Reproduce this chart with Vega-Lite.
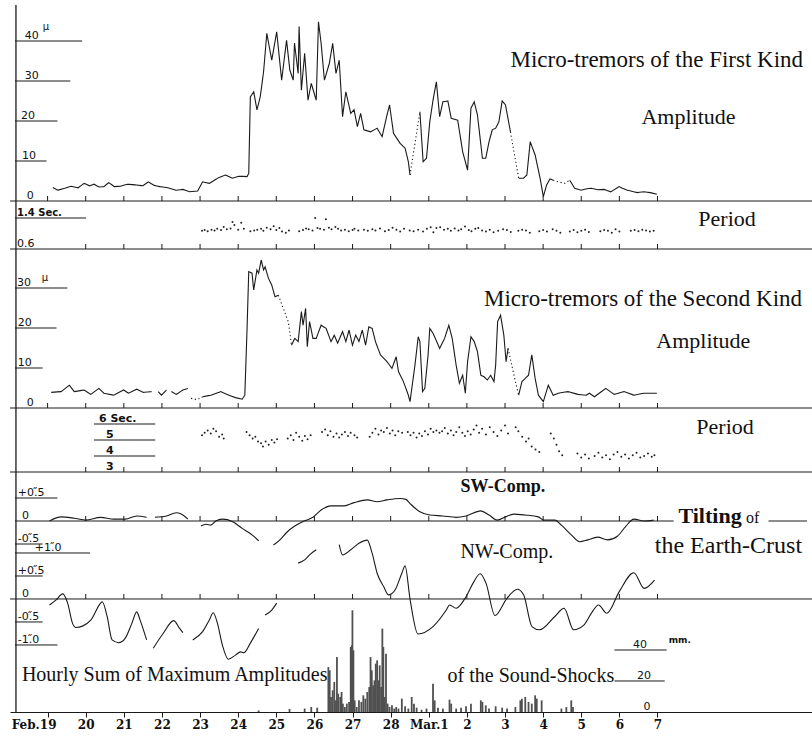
{
  "$schema": "https://vega.github.io/schema/vega-lite/v6.json",
  "autosize": {"type": "none"},
  "width": 802,
  "height": 712,
  "padding": {"left": 10, "top": 0, "right": 0, "bottom": 28},
  "background": "white",
  "config": {
    "view": {"stroke": null},
    "text": {"font": "Liberation Serif", "color": "#111111"},
    "rule": {"color": "#1a1a1a", "strokeWidth": 1}
  },
  "data": {"values": [{}]},
  "datasets": {
    "ticks": [{"d":0},{"d":1},{"d":2},{"d":3},{"d":4},{"d":5},{"d":6},{"d":7},{"d":8},{"d":9},{"d":10},{"d":11},{"d":12},{"d":13},{"d":14},{"d":15},{"d":16}],
    "amp1": [
      {"d":0.137,"v":3.4,"seg":"A","trace":"observed"},{"d":0.267,"v":2.7,"seg":"A","trace":"observed"},{"d":0.45,"v":3.2,"seg":"A","trace":"observed"},{"d":0.614,"v":3.7,"seg":"A","trace":"observed"},{"d":0.8,"v":3.3,"seg":"A","trace":"observed"},{"d":0.959,"v":4.4,"seg":"A","trace":"observed"},{"d":1.1,"v":3.8,"seg":"A","trace":"observed"},{"d":1.218,"v":4.2,"seg":"A","trace":"observed"},{"d":1.35,"v":3.5,"seg":"A","trace":"observed"},{"d":1.477,"v":3.6,"seg":"A","trace":"observed"},{"d":1.606,"v":4.6,"seg":"A","trace":"observed"},{"d":1.75,"v":3.6,"seg":"A","trace":"observed"},{"d":1.909,"v":3.7,"seg":"A","trace":"observed"},{"d":2.1,"v":4.2,"seg":"A","trace":"observed"},{"d":2.332,"v":4.0,"seg":"A","trace":"observed"},{"d":2.5,"v":3.8,"seg":"A","trace":"observed"},{"d":2.642,"v":4.8,"seg":"A","trace":"observed"},{"d":2.8,"v":3.9,"seg":"A","trace":"observed"},{"d":2.946,"v":3.6,"seg":"A","trace":"observed"},{"d":3.15,"v":3.3,"seg":"A","trace":"observed"},{"d":3.368,"v":2.7,"seg":"A","trace":"observed"},{"d":3.55,"v":2.9,"seg":"A","trace":"observed"},{"d":3.723,"v":2.3,"seg":"A","trace":"observed"},{"d":3.938,"v":2.5,"seg":"A","trace":"observed"},{"d":4.067,"v":4.8,"seg":"A","trace":"observed"},{"d":4.241,"v":4.4,"seg":"A","trace":"observed"},{"d":4.5,"v":5.9,"seg":"A","trace":"observed"},{"d":4.663,"v":6.5,"seg":"A","trace":"observed"},{"d":4.845,"v":5.7,"seg":"A","trace":"observed"},{"d":5.018,"v":6.2,"seg":"A","trace":"observed"},{"d":5.233,"v":6.1,"seg":"A","trace":"observed"},{"d":5.277,"v":6.9,"seg":"A","trace":"observed"},{"d":5.319,"v":26,"seg":"A","trace":"observed"},{"d":5.407,"v":27.3,"seg":"A","trace":"observed"},{"d":5.492,"v":22.8,"seg":"A","trace":"observed"},{"d":5.578,"v":26,"seg":"A","trace":"observed"},{"d":5.666,"v":32.3,"seg":"A","trace":"observed"},{"d":5.751,"v":41.9,"seg":"A","trace":"observed"},{"d":5.881,"v":35.2,"seg":"A","trace":"observed"},{"d":6.01,"v":42.3,"seg":"A","trace":"observed"},{"d":6.14,"v":30.2,"seg":"A","trace":"observed"},{"d":6.269,"v":40.2,"seg":"A","trace":"observed"},{"d":6.355,"v":32.7,"seg":"A","trace":"observed"},{"d":6.443,"v":30.2,"seg":"A","trace":"observed"},{"d":6.477,"v":39.5,"seg":"A","trace":"observed"},{"d":6.573,"v":31.9,"seg":"A","trace":"observed"},{"d":6.598,"v":43.6,"seg":"A","trace":"observed"},{"d":6.658,"v":27.7,"seg":"A","trace":"observed"},{"d":6.744,"v":36.9,"seg":"A","trace":"observed"},{"d":6.831,"v":25.2,"seg":"A","trace":"observed"},{"d":6.917,"v":29.4,"seg":"A","trace":"observed"},{"d":7.047,"v":25.2,"seg":"A","trace":"observed"},{"d":7.106,"v":44.8,"seg":"A","trace":"observed"},{"d":7.176,"v":39.4,"seg":"A","trace":"observed"},{"d":7.262,"v":30.2,"seg":"A","trace":"observed"},{"d":7.391,"v":34.4,"seg":"A","trace":"observed"},{"d":7.479,"v":39.4,"seg":"A","trace":"observed"},{"d":7.565,"v":31.9,"seg":"A","trace":"observed"},{"d":7.65,"v":35.2,"seg":"A","trace":"observed"},{"d":7.738,"v":21.1,"seg":"A","trace":"observed"},{"d":7.824,"v":27.3,"seg":"A","trace":"observed"},{"d":7.953,"v":21.9,"seg":"A","trace":"observed"},{"d":8.039,"v":22.8,"seg":"A","trace":"observed"},{"d":8.127,"v":18.6,"seg":"A","trace":"observed"},{"d":8.212,"v":21.9,"seg":"A","trace":"observed"},{"d":8.298,"v":17.8,"seg":"A","trace":"observed"},{"d":8.472,"v":17.3,"seg":"A","trace":"observed"},{"d":8.645,"v":18.2,"seg":"A","trace":"observed"},{"d":8.775,"v":16.1,"seg":"A","trace":"observed"},{"d":8.904,"v":21.5,"seg":"A","trace":"observed"},{"d":8.971,"v":24,"seg":"A","trace":"observed"},{"d":9.075,"v":16.9,"seg":"A","trace":"observed"},{"d":9.249,"v":14.4,"seg":"A","trace":"observed"},{"d":9.378,"v":13.2,"seg":"A","trace":"observed"},{"d":9.464,"v":9.8,"seg":"A","trace":"observed"},{"d":9.508,"v":6.5,"seg":"A","trace":"observed"},
      {"d":9.508,"v":6.5,"seg":"B","trace":"interpolated"},{"d":9.767,"v":22.3,"seg":"B","trace":"interpolated"},
      {"d":9.767,"v":22.3,"seg":"C","trace":"observed"},{"d":9.852,"v":9.8,"seg":"C","trace":"observed"},{"d":9.94,"v":10.7,"seg":"C","trace":"observed"},{"d":10.026,"v":19.8,"seg":"C","trace":"observed"},{"d":10.111,"v":25.2,"seg":"C","trace":"observed"},{"d":10.199,"v":29.8,"seg":"C","trace":"observed"},{"d":10.285,"v":21.1,"seg":"C","trace":"observed"},{"d":10.37,"v":24.8,"seg":"C","trace":"observed"},{"d":10.5,"v":25,"seg":"C","trace":"observed"},{"d":10.588,"v":20.7,"seg":"C","trace":"observed"},{"d":10.759,"v":20.2,"seg":"C","trace":"observed"},{"d":10.889,"v":12.3,"seg":"C","trace":"observed"},{"d":11.018,"v":7.7,"seg":"C","trace":"observed"},{"d":11.106,"v":23.2,"seg":"C","trace":"observed"},{"d":11.192,"v":24.8,"seg":"C","trace":"observed"},{"d":11.277,"v":21.5,"seg":"C","trace":"observed"},{"d":11.407,"v":10.7,"seg":"C","trace":"observed"},{"d":11.495,"v":10.7,"seg":"C","trace":"observed"},{"d":11.58,"v":14.8,"seg":"C","trace":"observed"},{"d":11.666,"v":17.8,"seg":"C","trace":"observed"},{"d":11.754,"v":18.2,"seg":"C","trace":"observed"},{"d":11.839,"v":19.8,"seg":"C","trace":"observed"},{"d":11.925,"v":25,"seg":"C","trace":"observed"},{"d":12.013,"v":24,"seg":"C","trace":"observed"},{"d":12.142,"v":17.3,"seg":"C","trace":"observed"},
      {"d":12.142,"v":17.3,"seg":"D","trace":"interpolated"},{"d":12.358,"v":5.7,"seg":"D","trace":"interpolated"},
      {"d":12.358,"v":5.7,"seg":"E","trace":"observed"},{"d":12.487,"v":5.7,"seg":"E","trace":"observed"},{"d":12.573,"v":6.5,"seg":"E","trace":"observed"},{"d":12.661,"v":14.8,"seg":"E","trace":"observed"},{"d":12.79,"v":11.5,"seg":"E","trace":"observed"},{"d":12.92,"v":5.7,"seg":"E","trace":"observed"},{"d":13.005,"v":1.1,"seg":"E","trace":"observed"},{"d":13.091,"v":4.0,"seg":"E","trace":"observed"},{"d":13.179,"v":5.5,"seg":"E","trace":"observed"},{"d":13.264,"v":5.2,"seg":"E","trace":"observed"},
      {"d":13.264,"v":5.2,"seg":"F","trace":"interpolated"},{"d":13.394,"v":4.8,"seg":"F","trace":"interpolated"},{"d":13.567,"v":4.4,"seg":"F","trace":"interpolated"},{"d":13.697,"v":5.2,"seg":"F","trace":"interpolated"},
      {"d":13.697,"v":5.2,"seg":"G","trace":"observed"},{"d":13.826,"v":3.2,"seg":"G","trace":"observed"},{"d":13.997,"v":2.7,"seg":"G","trace":"observed"},{"d":14.12,"v":3.0,"seg":"G","trace":"observed"},{"d":14.256,"v":3.2,"seg":"G","trace":"observed"},{"d":14.43,"v":2.8,"seg":"G","trace":"observed"},{"d":14.603,"v":2.9,"seg":"G","trace":"observed"},{"d":14.775,"v":2.3,"seg":"G","trace":"observed"},{"d":14.992,"v":3.6,"seg":"G","trace":"observed"},{"d":15.1,"v":3.1,"seg":"G","trace":"observed"},{"d":15.207,"v":2.7,"seg":"G","trace":"observed"},{"d":15.466,"v":2.1,"seg":"G","trace":"observed"},{"d":15.65,"v":2.3,"seg":"G","trace":"observed"},{"d":15.811,"v":2.1,"seg":"G","trace":"observed"},{"d":15.984,"v":1.7,"seg":"G","trace":"observed"}
    ],
    "per1": [
      {"d":4.05,"s":1.07},{"d":4.12,"s":1.09},{"d":4.2,"s":1.06},{"d":4.3,"s":1.1},{"d":4.38,"s":1.08},{"d":4.45,"s":1.12},{"d":4.55,"s":1.09},{"d":4.62,"s":1.17},{"d":4.7,"s":1.11},{"d":4.8,"s":1.13},{"d":4.85,"s":1.3},{"d":4.9,"s":1.22},{"d":5.0,"s":1.1},{"d":5.08,"s":1.28},{"d":5.15,"s":1.12},
      {"d":5.32,"s":1.06},{"d":5.42,"s":1.08},{"d":5.5,"s":1.1},{"d":5.6,"s":1.12},{"d":5.66,"s":1.07},{"d":5.75,"s":1.15},{"d":5.85,"s":1.11},{"d":5.93,"s":1.19},{"d":6.0,"s":1.09},{"d":6.08,"s":1.14},{"d":6.15,"s":1.05},{"d":6.25,"s":1.02},{"d":6.33,"s":1.08},
      {"d":6.6,"s":1.06},{"d":6.7,"s":1.09},{"d":6.78,"s":1.13},{"d":6.85,"s":1.11},{"d":6.95,"s":1.08},{"d":7.02,"s":1.4},{"d":7.08,"s":1.14},{"d":7.15,"s":1.12},{"d":7.25,"s":1.1},{"d":7.3,"s":1.37},{"d":7.38,"s":1.15},{"d":7.45,"s":1.11},{"d":7.55,"s":1.17},{"d":7.62,"s":1.12},{"d":7.7,"s":1.08},{"d":7.8,"s":1.1},{"d":7.9,"s":1.06},{"d":8.0,"s":1.09},{"d":8.05,"s":1.12},{"d":8.15,"s":1.08},{"d":8.3,"s":1.1},{"d":8.4,"s":1.07},{"d":8.52,"s":1.11},{"d":8.6,"s":1.08},{"d":8.72,"s":1.13},{"d":8.85,"s":1.06},{"d":8.95,"s":1.09},{"d":9.05,"s":1.15},{"d":9.15,"s":1.1},{"d":9.25,"s":1.05},{"d":9.35,"s":1.12},
      {"d":9.5,"s":1.08},{"d":9.6,"s":1.06},{"d":9.72,"s":1.1},{"d":9.85,"s":1.05},{"d":9.95,"s":1.12},{"d":10.05,"s":1.16},{"d":10.12,"s":1.03},{"d":10.2,"s":1.14},{"d":10.3,"s":1.16},{"d":10.4,"s":1.1},{"d":10.5,"s":1.12},{"d":10.58,"s":1.07},{"d":10.68,"s":1.13},{"d":10.78,"s":1.08},{"d":10.85,"s":1.11},{"d":10.95,"s":1.18},{"d":11.05,"s":1.09},{"d":11.12,"s":1.06},{"d":11.22,"s":1.12},{"d":11.3,"s":1.14},{"d":11.4,"s":1.08},{"d":11.5,"s":1.05},{"d":11.6,"s":1.1},{"d":11.7,"s":1.03},{"d":11.82,"s":1.07},{"d":11.95,"s":1.11},{"d":12.05,"s":1.09},{"d":12.15,"s":1.04},{"d":12.35,"s":1.07},{"d":12.45,"s":1.1},{"d":12.55,"s":1.08},{"d":12.65,"s":1.02},{"d":12.9,"s":1.06},{"d":13.0,"s":1.09},{"d":13.1,"s":1.05},{"d":13.25,"s":1.11},{"d":13.35,"s":1.07},{"d":13.45,"s":1.02},{"d":13.7,"s":1.05},{"d":13.8,"s":1.09},{"d":13.9,"s":1.03},{"d":14.0,"s":1.07},{"d":14.1,"s":1.1},{"d":14.2,"s":1.04},{"d":14.5,"s":1.06},{"d":14.6,"s":1.09},{"d":14.7,"s":1.07},{"d":14.8,"s":1.02},{"d":14.9,"s":1.11},{"d":15.0,"s":1.05},{"d":15.3,"s":1.07},{"d":15.4,"s":1.09},{"d":15.5,"s":1.06},{"d":15.6,"s":1.1},{"d":15.7,"s":1.08},{"d":15.8,"s":1.05},{"d":15.9,"s":1.07}
    ],
    "amp2": [
      {"d":0.096,"v":3.9,"seg":"1","trace":"observed"},{"d":0.355,"v":4.1,"seg":"1","trace":"observed"},{"d":0.57,"v":5.7,"seg":"1","trace":"observed"},{"d":0.699,"v":4.1,"seg":"1","trace":"observed"},{"d":0.959,"v":4.5,"seg":"1","trace":"observed"},{"d":1.132,"v":3.4,"seg":"1","trace":"observed"},{"d":1.347,"v":4.9,"seg":"1","trace":"observed"},{"d":1.477,"v":3.7,"seg":"1","trace":"observed"},{"d":1.736,"v":3.2,"seg":"1","trace":"observed"},{"d":1.995,"v":4.5,"seg":"1","trace":"observed"},{"d":2.124,"v":3.7,"seg":"1","trace":"observed"},{"d":2.339,"v":4.7,"seg":"1","trace":"observed"},{"d":2.513,"v":3.9,"seg":"1","trace":"observed"},{"d":2.728,"v":4.1,"seg":"1","trace":"observed"},
      {"d":2.902,"v":4.1,"seg":"2","trace":"observed"},{"d":2.987,"v":3.2,"seg":"2","trace":"observed"},{"d":3.117,"v":4.5,"seg":"2","trace":"observed"},
      {"d":3.246,"v":4.1,"seg":"3","trace":"observed"},{"d":3.376,"v":3.4,"seg":"3","trace":"observed"},{"d":3.549,"v":4.5,"seg":"3","trace":"observed"},{"d":3.679,"v":4.9,"seg":"3","trace":"observed"},
      {"d":3.764,"v":2.4,"seg":"4","trace":"interpolated"},{"d":3.92,"v":2.1,"seg":"4","trace":"interpolated"},{"d":4.067,"v":2.8,"seg":"4","trace":"interpolated"},
      {"d":4.067,"v":2.8,"seg":"5","trace":"observed"},{"d":4.282,"v":3.2,"seg":"5","trace":"observed"},{"d":4.541,"v":4.1,"seg":"5","trace":"observed"},{"d":4.759,"v":3.2,"seg":"5","trace":"observed"},{"d":4.93,"v":2.6,"seg":"5","trace":"observed"},{"d":5.104,"v":2.2,"seg":"5","trace":"observed"},{"d":5.174,"v":3.2,"seg":"5","trace":"observed"},{"d":5.233,"v":19.9,"seg":"5","trace":"observed"},{"d":5.277,"v":34.1,"seg":"5","trace":"observed"},{"d":5.363,"v":33.7,"seg":"5","trace":"observed"},{"d":5.407,"v":29.5,"seg":"5","trace":"observed"},{"d":5.492,"v":34.5,"seg":"5","trace":"observed"},{"d":5.536,"v":33.7,"seg":"5","trace":"observed"},{"d":5.604,"v":37,"seg":"5","trace":"observed"},{"d":5.666,"v":34.5,"seg":"5","trace":"observed"},{"d":5.707,"v":35.3,"seg":"5","trace":"observed"},{"d":5.795,"v":32.4,"seg":"5","trace":"observed"},{"d":5.881,"v":30.7,"seg":"5","trace":"observed"},{"d":5.966,"v":27.8,"seg":"5","trace":"observed"},{"d":6.054,"v":28.2,"seg":"5","trace":"observed"},
      {"d":6.054,"v":28.2,"seg":"6","trace":"interpolated"},{"d":6.313,"v":21.6,"seg":"6","trace":"interpolated"},{"d":6.399,"v":15.7,"seg":"6","trace":"interpolated"},
      {"d":6.399,"v":15.7,"seg":"7","trace":"observed"},{"d":6.484,"v":17.4,"seg":"7","trace":"observed"},{"d":6.573,"v":16.6,"seg":"7","trace":"observed"},{"d":6.658,"v":24.1,"seg":"7","trace":"observed"},{"d":6.702,"v":20.7,"seg":"7","trace":"observed"},{"d":6.769,"v":24.9,"seg":"7","trace":"observed"},{"d":6.813,"v":15.3,"seg":"7","trace":"observed"},{"d":6.873,"v":21.6,"seg":"7","trace":"observed"},{"d":6.961,"v":17.4,"seg":"7","trace":"observed"},{"d":7.047,"v":17.4,"seg":"7","trace":"observed"},{"d":7.176,"v":20.7,"seg":"7","trace":"observed"},{"d":7.306,"v":19.9,"seg":"7","trace":"observed"},{"d":7.435,"v":16.6,"seg":"7","trace":"observed"},{"d":7.521,"v":18.2,"seg":"7","trace":"observed"},{"d":7.609,"v":16.2,"seg":"7","trace":"observed"},{"d":7.738,"v":19.1,"seg":"7","trace":"observed"},{"d":7.824,"v":16.6,"seg":"7","trace":"observed"},{"d":7.909,"v":19.5,"seg":"7","trace":"observed"},{"d":7.997,"v":15.7,"seg":"7","trace":"observed"},{"d":8.083,"v":18.2,"seg":"7","trace":"observed"},{"d":8.168,"v":16.6,"seg":"7","trace":"observed"},{"d":8.256,"v":19.5,"seg":"7","trace":"observed"},{"d":8.342,"v":15.7,"seg":"7","trace":"observed"},{"d":8.427,"v":20.3,"seg":"7","trace":"observed"},{"d":8.515,"v":19.9,"seg":"7","trace":"observed"},{"d":8.601,"v":16.6,"seg":"7","trace":"observed"},{"d":8.731,"v":13.3,"seg":"7","trace":"observed"},{"d":8.904,"v":11.6,"seg":"7","trace":"observed"},{"d":9.034,"v":9.9,"seg":"7","trace":"observed"},{"d":9.145,"v":12.8,"seg":"7","trace":"observed"},{"d":9.205,"v":9.1,"seg":"7","trace":"observed"},{"d":9.334,"v":6.6,"seg":"7","trace":"observed"},{"d":9.464,"v":3.2,"seg":"7","trace":"observed"},{"d":9.508,"v":1.6,"seg":"7","trace":"observed"},{"d":9.637,"v":10.7,"seg":"7","trace":"observed"},{"d":9.723,"v":17.8,"seg":"7","trace":"observed"},{"d":9.767,"v":16.6,"seg":"7","trace":"observed"},{"d":9.837,"v":4.1,"seg":"7","trace":"observed"},{"d":9.896,"v":4.9,"seg":"7","trace":"observed"},{"d":9.982,"v":13.3,"seg":"7","trace":"observed"},{"d":10.026,"v":19.9,"seg":"7","trace":"observed"},{"d":10.111,"v":18.7,"seg":"7","trace":"observed"},{"d":10.285,"v":14.9,"seg":"7","trace":"observed"},{"d":10.415,"v":17.4,"seg":"7","trace":"observed"},{"d":10.526,"v":20.7,"seg":"7","trace":"observed"},{"d":10.614,"v":17.4,"seg":"7","trace":"observed"},{"d":10.718,"v":10.7,"seg":"7","trace":"observed"},{"d":10.803,"v":6.2,"seg":"7","trace":"observed"},{"d":10.889,"v":8.2,"seg":"7","trace":"observed"},{"d":10.959,"v":3.7,"seg":"7","trace":"observed"},{"d":11.018,"v":11.6,"seg":"7","trace":"observed"},{"d":11.106,"v":17.8,"seg":"7","trace":"observed"},{"d":11.192,"v":16.6,"seg":"7","trace":"observed"},{"d":11.277,"v":14.1,"seg":"7","trace":"observed"},{"d":11.365,"v":8.2,"seg":"7","trace":"observed"},{"d":11.451,"v":7.8,"seg":"7","trace":"observed"},{"d":11.536,"v":7.0,"seg":"7","trace":"observed"},{"d":11.624,"v":8.2,"seg":"7","trace":"observed"},{"d":11.71,"v":6.6,"seg":"7","trace":"observed"},{"d":11.754,"v":10.7,"seg":"7","trace":"observed"},{"d":11.806,"v":21.6,"seg":"7","trace":"observed"},{"d":11.883,"v":23.2,"seg":"7","trace":"observed"},{"d":11.969,"v":18.2,"seg":"7","trace":"observed"},{"d":12.028,"v":11.6,"seg":"7","trace":"observed"},{"d":12.08,"v":14.9,"seg":"7","trace":"observed"},
      {"d":12.08,"v":14.9,"seg":"8","trace":"interpolated"},{"d":12.272,"v":6.6,"seg":"8","trace":"interpolated"},{"d":12.358,"v":3.2,"seg":"8","trace":"interpolated"},
      {"d":12.358,"v":3.2,"seg":"9","trace":"observed"},{"d":12.443,"v":6.6,"seg":"9","trace":"observed"},{"d":12.531,"v":7.4,"seg":"9","trace":"observed"},{"d":12.617,"v":8.2,"seg":"9","trace":"observed"},{"d":12.702,"v":13.3,"seg":"9","trace":"observed"},{"d":12.79,"v":7.4,"seg":"9","trace":"observed"},{"d":12.876,"v":3.2,"seg":"9","trace":"observed"},{"d":13.005,"v":1.6,"seg":"9","trace":"observed"},{"d":13.135,"v":5.7,"seg":"9","trace":"observed"},{"d":13.264,"v":3.2,"seg":"9","trace":"observed"},{"d":13.394,"v":3.7,"seg":"9","trace":"observed"},{"d":13.653,"v":4.1,"seg":"9","trace":"observed"},{"d":13.912,"v":3.4,"seg":"9","trace":"observed"},{"d":14.127,"v":3.2,"seg":"9","trace":"observed"},{"d":14.215,"v":3.7,"seg":"9","trace":"observed"},{"d":14.345,"v":2.8,"seg":"9","trace":"observed"},{"d":14.645,"v":4.9,"seg":"9","trace":"observed"},{"d":14.863,"v":3.4,"seg":"9","trace":"observed"},{"d":15.122,"v":4.1,"seg":"9","trace":"observed"},{"d":15.381,"v":3.2,"seg":"9","trace":"observed"},{"d":15.64,"v":3.7,"seg":"9","trace":"observed"},{"d":15.984,"v":3.7,"seg":"9","trace":"observed"}
    ],
    "per2": [
      {"d":4.05,"s":5.3},{"d":4.12,"s":5.45},{"d":4.2,"s":5.6},{"d":4.28,"s":5.4},{"d":4.35,"s":5.7},{"d":4.42,"s":5.55},{"d":4.5,"s":5.2},{"d":4.58,"s":5.35},{"d":4.62,"s":5.1},
      {"d":5.22,"s":5.5},{"d":5.3,"s":5.3},{"d":5.38,"s":5.1},{"d":5.45,"s":5.2},{"d":5.52,"s":4.9},{"d":5.6,"s":4.8},{"d":5.65,"s":4.6},{"d":5.72,"s":4.9},{"d":5.8,"s":4.7},{"d":5.88,"s":5.0},{"d":5.95,"s":4.85},{"d":6.02,"s":5.05},
      {"d":6.3,"s":5.1},{"d":6.38,"s":5.3},{"d":6.45,"s":5.0},{"d":6.52,"s":5.45},{"d":6.6,"s":5.2},{"d":6.68,"s":4.95},{"d":6.75,"s":5.25},{"d":6.82,"s":5.05},{"d":6.9,"s":5.3},
      {"d":7.2,"s":5.5},{"d":7.28,"s":5.65},{"d":7.35,"s":5.3},{"d":7.42,"s":5.55},{"d":7.5,"s":5.2},{"d":7.58,"s":5.4},{"d":7.65,"s":5.15},{"d":7.72,"s":5.35},{"d":7.8,"s":5.5},{"d":7.88,"s":5.25},{"d":7.95,"s":5.45},{"d":8.05,"s":5.3},{"d":8.12,"s":5.15},
      {"d":8.45,"s":5.2},{"d":8.52,"s":5.45},{"d":8.6,"s":5.7},{"d":8.68,"s":5.35},{"d":8.75,"s":5.6},{"d":8.82,"s":5.5},{"d":8.9,"s":5.75},{"d":8.98,"s":5.4},{"d":9.05,"s":5.6},{"d":9.12,"s":5.3},{"d":9.2,"s":5.55},{"d":9.3,"s":5.45},
      {"d":9.45,"s":5.5},{"d":9.52,"s":5.3},{"d":9.6,"s":5.45},{"d":9.68,"s":5.15},{"d":9.75,"s":5.4},{"d":9.82,"s":5.25},{"d":9.9,"s":5.55},{"d":9.98,"s":5.35},{"d":10.05,"s":5.7},{"d":10.12,"s":5.5},{"d":10.2,"s":5.6},{"d":10.28,"s":5.45},{"d":10.35,"s":5.55},{"d":10.42,"s":5.75},{"d":10.5,"s":5.4},{"d":10.58,"s":5.6},{"d":10.65,"s":5.3},{"d":10.72,"s":5.5},{"d":10.8,"s":5.8},{"d":10.88,"s":5.45},{"d":10.95,"s":5.25},{"d":11.02,"s":5.55},{"d":11.1,"s":5.35},{"d":11.18,"s":5.65},{"d":11.25,"s":5.9},{"d":11.32,"s":5.45},{"d":11.4,"s":5.7},{"d":11.5,"s":5.35},{"d":11.6,"s":5.8},{"d":11.7,"s":5.5},{"d":11.8,"s":5.25},{"d":11.9,"s":5.6},{"d":12.0,"s":5.9},{"d":12.08,"s":5.4},
      {"d":12.28,"s":5.8},{"d":12.35,"s":5.55},{"d":12.45,"s":5.2},{"d":12.55,"s":4.9},{"d":12.62,"s":5.1},{"d":12.7,"s":4.6},{"d":12.8,"s":4.4},{"d":12.9,"s":4.25},
      {"d":13.2,"s":5.4},{"d":13.28,"s":5.1},{"d":13.35,"s":4.7},{"d":13.42,"s":4.3},{"d":13.5,"s":4.05},
      {"d":13.9,"s":4.15},{"d":14.0,"s":3.9},{"d":14.1,"s":4.1},{"d":14.2,"s":3.85},{"d":14.35,"s":4.0},{"d":14.45,"s":4.2},{"d":14.55,"s":3.9},{"d":14.65,"s":4.05},{"d":14.75,"s":3.8},{"d":14.85,"s":4.1},{"d":14.95,"s":4.25},{"d":15.05,"s":3.95},{"d":15.15,"s":4.1},{"d":15.25,"s":3.85},{"d":15.35,"s":4.05},{"d":15.45,"s":4.2},{"d":15.55,"s":3.9},{"d":15.65,"s":4.0},{"d":15.75,"s":4.15},{"d":15.85,"s":3.95},{"d":15.92,"s":4.05}
    ],
    "sw": [
      {"d":0.052,"t":0.0,"seg":"s1"},{"d":0.355,"t":0.09,"seg":"s1"},{"d":0.699,"t":0.06,"seg":"s1"},{"d":1.003,"t":0.02,"seg":"s1"},{"d":1.391,"t":0.08,"seg":"s1"},{"d":1.736,"t":0.04,"seg":"s1"},{"d":2.039,"t":0.04,"seg":"s1"},{"d":2.339,"t":0.11,"seg":"s1"},{"d":2.598,"t":0.08,"seg":"s1"},
      {"d":2.816,"t":0.08,"seg":"s2"},{"d":3.117,"t":0.11,"seg":"s2"},{"d":3.376,"t":0.18,"seg":"s2"},{"d":3.505,"t":0.15,"seg":"s2"},{"d":3.679,"t":0.04,"seg":"s2"},
      {"d":4.023,"t":-0.11,"seg":"s3"},{"d":4.153,"t":-0.07,"seg":"s3"},{"d":4.282,"t":-0.09,"seg":"s3"},{"d":4.412,"t":0.0,"seg":"s3"},{"d":4.585,"t":0.04,"seg":"s3"},{"d":4.845,"t":-0.01,"seg":"s3"},{"d":5.104,"t":-0.16,"seg":"s3"},{"d":5.363,"t":-0.3,"seg":"s3"},{"d":5.536,"t":-0.43,"seg":"s3"},
      {"d":5.925,"t":-0.52,"seg":"s4"},{"d":6.096,"t":-0.41,"seg":"s4"},{"d":6.269,"t":-0.25,"seg":"s4"},{"d":6.484,"t":-0.11,"seg":"s4"},{"d":6.702,"t":-0.01,"seg":"s4"},{"d":6.961,"t":0.08,"seg":"s4"},{"d":7.176,"t":0.24,"seg":"s4"},{"d":7.435,"t":0.33,"seg":"s4"},{"d":7.78,"t":0.33,"seg":"s4"},{"d":8.039,"t":0.4,"seg":"s4"},{"d":8.386,"t":0.46,"seg":"s4"},{"d":8.645,"t":0.42,"seg":"s4"},{"d":8.904,"t":0.46,"seg":"s4"},{"d":9.249,"t":0.49,"seg":"s4"},{"d":9.4,"t":0.47,"seg":"s4"},{"d":9.508,"t":0.38,"seg":"s4"},{"d":9.767,"t":0.2,"seg":"s4"},{"d":10.026,"t":0.13,"seg":"s4"},{"d":10.37,"t":0.11,"seg":"s4"},{"d":10.718,"t":0.08,"seg":"s4"},{"d":10.977,"t":0.11,"seg":"s4"},{"d":11.365,"t":0.22,"seg":"s4"},{"d":11.58,"t":0.13,"seg":"s4"},{"d":11.795,"t":0.02,"seg":"s4"},{"d":12.013,"t":0.09,"seg":"s4"},{"d":12.228,"t":0.15,"seg":"s4"},{"d":12.531,"t":0.13,"seg":"s4"},{"d":12.876,"t":0.09,"seg":"s4"},{"d":13.005,"t":0.02,"seg":"s4"},{"d":13.308,"t":0.02,"seg":"s4"},{"d":13.479,"t":-0.09,"seg":"s4"},{"d":13.738,"t":-0.3,"seg":"s4"},{"d":13.956,"t":-0.45,"seg":"s4"},{"d":14.171,"t":-0.41,"seg":"s4"},{"d":14.43,"t":-0.35,"seg":"s4"},{"d":14.689,"t":-0.41,"seg":"s4"},{"d":14.948,"t":-0.33,"seg":"s4"},{"d":15.163,"t":-0.12,"seg":"s4"},{"d":15.381,"t":0.04,"seg":"s4"},{"d":15.64,"t":0.0,"seg":"s4"},{"d":15.899,"t":0.02,"seg":"s4"}
    ],
    "nw": [
      {"d":0.052,"t":-0.13,"seg":"n1"},{"d":0.225,"t":-0.02,"seg":"n1"},{"d":0.396,"t":0.11,"seg":"n1"},{"d":0.526,"t":-0.09,"seg":"n1"},{"d":0.655,"t":-0.53,"seg":"n1"},{"d":0.744,"t":-0.62,"seg":"n1"},{"d":0.915,"t":-0.59,"seg":"n1"},{"d":1.132,"t":-0.46,"seg":"n1"},{"d":1.391,"t":-0.09,"seg":"n1"},{"d":1.433,"t":-0.06,"seg":"n1"},{"d":1.562,"t":-0.38,"seg":"n1"},{"d":1.692,"t":-0.89,"seg":"n1"},{"d":1.865,"t":-0.95,"seg":"n1"},{"d":2.039,"t":-0.85,"seg":"n1"},{"d":2.21,"t":-0.53,"seg":"n1"},{"d":2.339,"t":-0.28,"seg":"n1"},{"d":2.427,"t":-0.46,"seg":"n1"},{"d":2.598,"t":-0.89,"seg":"n1"},
      {"d":2.772,"t":-1.07,"seg":"n2"},{"d":3.031,"t":-0.75,"seg":"n2"},{"d":3.308,"t":-0.47,"seg":"n2"},{"d":3.464,"t":-0.64,"seg":"n2"},{"d":3.549,"t":-0.73,"seg":"n2"},
      {"d":3.808,"t":-0.89,"seg":"n3"},{"d":4.067,"t":-0.71,"seg":"n3"},{"d":4.241,"t":-0.46,"seg":"n3"},{"d":4.345,"t":-0.3,"seg":"n3"},{"d":4.456,"t":-0.53,"seg":"n3"},{"d":4.585,"t":-1.0,"seg":"n3"},{"d":4.741,"t":-1.31,"seg":"n3"},{"d":4.93,"t":-1.22,"seg":"n3"},{"d":5.06,"t":-1.15,"seg":"n3"},{"d":5.148,"t":-1.17,"seg":"n3"},{"d":5.319,"t":-0.96,"seg":"n3"},{"d":5.536,"t":-0.64,"seg":"n3"},
      {"d":5.707,"t":-0.35,"seg":"n4"},{"d":5.881,"t":-0.24,"seg":"n4"},{"d":6.01,"t":-0.09,"seg":"n4"},
      {"d":6.573,"t":0.78,"seg":"n5"},{"d":6.744,"t":0.85,"seg":"n5"},{"d":6.873,"t":0.96,"seg":"n5"},{"d":7.047,"t":1.07,"seg":"n5"},
      {"d":7.65,"t":1.18,"seg":"n6"},{"d":7.738,"t":0.96,"seg":"n6"},{"d":7.953,"t":1.07,"seg":"n6"},{"d":8.168,"t":1.21,"seg":"n6"},{"d":8.386,"t":1.28,"seg":"n6"},{"d":8.515,"t":0.99,"seg":"n6"},{"d":8.645,"t":0.56,"seg":"n6"},{"d":8.816,"t":0.27,"seg":"n6"},{"d":8.946,"t":0.09,"seg":"n6"},{"d":9.119,"t":0.2,"seg":"n6"},{"d":9.293,"t":0.56,"seg":"n6"},{"d":9.378,"t":0.72,"seg":"n6"},{"d":9.508,"t":0.0,"seg":"n6"},{"d":9.715,"t":-0.76,"seg":"n6"},{"d":10.111,"t":-0.6,"seg":"n6"},{"d":10.458,"t":-0.24,"seg":"n6"},{"d":10.544,"t":-0.13,"seg":"n6"},{"d":10.718,"t":-0.2,"seg":"n6"},{"d":10.977,"t":0.05,"seg":"n6"},{"d":11.166,"t":0.35,"seg":"n6"},{"d":11.347,"t":0.55,"seg":"n6"},{"d":11.503,"t":0.34,"seg":"n6"},{"d":11.736,"t":-0.36,"seg":"n6"},{"d":12.047,"t":0.01,"seg":"n6"},{"d":12.324,"t":0.21,"seg":"n6"},{"d":12.487,"t":0.09,"seg":"n6"},{"d":12.707,"t":-0.6,"seg":"n6"},{"d":12.902,"t":-0.67,"seg":"n6"},{"d":13.306,"t":-0.38,"seg":"n6"},{"d":13.549,"t":-0.2,"seg":"n6"},{"d":13.798,"t":-0.67,"seg":"n6"},{"d":14.067,"t":-0.57,"seg":"n6"},{"d":14.288,"t":-0.28,"seg":"n6"},{"d":14.451,"t":-0.13,"seg":"n6"},{"d":14.671,"t":-0.31,"seg":"n6"},{"d":14.997,"t":0.16,"seg":"n6"},{"d":15.378,"t":0.57,"seg":"n6"},{"d":15.65,"t":0.23,"seg":"n6"},{"d":15.922,"t":0.41,"seg":"n6"}
    ],
    "shocks": [
      {"d":5.536,"mm":1},{"d":6.347,"mm":2},{"d":6.744,"mm":2.2},{"d":6.917,"mm":3.2},{"d":7.073,"mm":2.8},{"d":7.366,"mm":29},{"d":7.401,"mm":26.9},{"d":7.435,"mm":9.7},{"d":7.479,"mm":14},{"d":7.521,"mm":19.4},{"d":7.565,"mm":7.5},{"d":7.591,"mm":35.5},{"d":7.624,"mm":11.8},{"d":7.676,"mm":9.7},{"d":7.712,"mm":12.9},{"d":7.746,"mm":5.4},{"d":7.798,"mm":3.2},{"d":7.85,"mm":5.4},{"d":7.909,"mm":6.5},{"d":7.953,"mm":41.9},{"d":7.979,"mm":43},{"d":7.997,"mm":65.6},{"d":8.023,"mm":39.8},{"d":8.057,"mm":7.5},{"d":8.109,"mm":3.2},{"d":8.168,"mm":7.5},{"d":8.231,"mm":6.5},{"d":8.282,"mm":10.75},{"d":8.334,"mm":8.6},{"d":8.386,"mm":12.9},{"d":8.438,"mm":16.1},{"d":8.472,"mm":35.5},{"d":8.505,"mm":26.9},{"d":8.541,"mm":17.2},{"d":8.575,"mm":20.4},{"d":8.609,"mm":31.2},{"d":8.645,"mm":33.3},{"d":8.679,"mm":20.4},{"d":8.712,"mm":30.1},{"d":8.749,"mm":16.1},{"d":8.782,"mm":53.8},{"d":8.808,"mm":41.9},{"d":8.842,"mm":9.7},{"d":8.878,"mm":37.6},{"d":8.92,"mm":5.4},{"d":8.971,"mm":3.2},{"d":9.034,"mm":4.3},{"d":9.093,"mm":2.2},{"d":9.145,"mm":3.2},{"d":9.205,"mm":2.2},{"d":9.293,"mm":8.6},{"d":9.378,"mm":3.7},{"d":9.464,"mm":2.2},{"d":9.552,"mm":9.7},{"d":9.611,"mm":5.4},{"d":9.681,"mm":2.8},{"d":9.811,"mm":1.5},{"d":9.94,"mm":2.2},{"d":10.111,"mm":18.3},{"d":10.155,"mm":7.5},{"d":10.241,"mm":2.8},{"d":10.37,"mm":2.2},{"d":10.544,"mm":8},{"d":10.588,"mm":5.4},{"d":10.718,"mm":2.2},{"d":10.847,"mm":2.8},{"d":10.977,"mm":3.7},{"d":11.106,"mm":5.4},{"d":11.365,"mm":7.5},{"d":11.407,"mm":6.5},{"d":11.495,"mm":4.3},{"d":11.58,"mm":2.2},{"d":11.754,"mm":3.7},{"d":11.925,"mm":2.8},{"d":12.054,"mm":2.2},{"d":12.272,"mm":3.2},{"d":12.402,"mm":7.5},{"d":12.443,"mm":8.6},{"d":12.531,"mm":9.7},{"d":12.617,"mm":6.5},{"d":12.702,"mm":5.4},{"d":12.79,"mm":10.75},{"d":12.832,"mm":8.6},{"d":12.961,"mm":7.5},{"d":13.479,"mm":2.2},{"d":13.609,"mm":3.2},{"d":13.738,"mm":7.5},{"d":13.782,"mm":3.2}
    ]
  },
  "resolve": {"scale": {"y": "independent"}},
  "layer": [
    {
      "layer": [
        {
          "data": {"name": "amp1"},
          "mark": {"type": "line", "strokeWidth": 1.1, "color": "#1a1a1a"},
          "encoding": {
            "x": {"field": "d", "type": "quantitative", "title": null,
                  "scale": {"domain": [-0.855, 19.922], "nice": false, "zero": false},
                  "axis": {"values": [0,1,2,3,4,5,6,7,8,9,10,11,12,13,14,15,16], "title": null, "grid": false,
                           "labelExpr": "datum.value === 0 ? 'Feb.19' : (datum.value === 10 ? 'Mar.1' : (datum.value < 10 ? '' + (19 + datum.value) : '' + (datum.value - 9)))",
                           "domainColor": "#1a1a1a", "tickColor": "#1a1a1a", "tickSize": 5, "labelPadding": 2,
                           "labelFont": "DejaVu Serif", "labelFontWeight": "bold", "labelFontSize": 12, "labelColor": "#111111",
                           "labelOverlap": false, "labelFlush": false,
                           "labelOffset": {"condition": {"test": "datum.value === 0", "value": -14}, "value": 0}}},
            "y": {"field": "v", "type": "quantitative", "scale": {"domain": [-127.75, 50.25], "nice": false, "zero": false}, "axis": null},
            "detail": {"field": "seg"},
            "strokeDash": {"field": "trace", "type": "nominal", "scale": {"domain": ["observed", "interpolated"], "range": [[6, 0], [1.2, 2.6]]}, "legend": null}
          }
        },
        {"mark": {"type": "rule", "strokeWidth": 1.3}, "encoding": {"x": {"datum": -0.83}, "y": {"datum": 49, "axis": null}, "y2": {"datum": -127.75}}},
        {"mark": {"type": "rule"}, "encoding": {"y": {"datum": 0, "axis": null}}},
        {"data": {"name": "ticks"}, "mark": {"type": "rule"}, "encoding": {"x": {"field": "d", "type": "quantitative", "title": null}, "y": {"datum": 0, "axis": null}, "y2": {"datum": 1.25}}},
        {"mark": {"type": "rule"}, "encoding": {"x": {"datum": -0.855}, "x2": {"datum": 0.907}, "y": {"datum": 40, "axis": null}}},
        {"mark": {"type": "rule"}, "encoding": {"x": {"datum": -0.855}, "x2": {"datum": 0.596}, "y": {"datum": 30, "axis": null}}},
        {"mark": {"type": "rule"}, "encoding": {"x": {"datum": -0.855}, "x2": {"datum": 0.259}, "y": {"datum": 20, "axis": null}}},
        {"mark": {"type": "rule"}, "encoding": {"x": {"datum": -0.855}, "x2": {"datum": -0.026}, "y": {"datum": 10, "axis": null}}},
        {"mark": {"type": "text", "font": "DejaVu Sans", "fontSize": 11, "align": "left", "baseline": "alphabetic", "dy": -2}, "encoding": {"x": {"datum": -0.596}, "y": {"datum": 40, "axis": null}, "text": {"value": "40"}}},
        {"mark": {"type": "text", "font": "DejaVu Sans", "fontSize": 10, "align": "left", "baseline": "middle"}, "encoding": {"x": {"datum": -0.13}, "y": {"datum": 43.5, "axis": null}, "text": {"value": "μ"}}},
        {"mark": {"type": "text", "font": "DejaVu Sans", "fontSize": 11, "align": "left", "baseline": "alphabetic", "dy": -2}, "encoding": {"x": {"datum": -0.596}, "y": {"datum": 30, "axis": null}, "text": {"value": "30"}}},
        {"mark": {"type": "text", "font": "DejaVu Sans", "fontSize": 11, "align": "left", "baseline": "alphabetic", "dy": -2}, "encoding": {"x": {"datum": -0.699}, "y": {"datum": 20, "axis": null}, "text": {"value": "20"}}},
        {"mark": {"type": "text", "font": "DejaVu Sans", "fontSize": 11, "align": "left", "baseline": "alphabetic", "dy": -2}, "encoding": {"x": {"datum": -0.674}, "y": {"datum": 10, "axis": null}, "text": {"value": "10"}}},
        {"mark": {"type": "text", "font": "DejaVu Sans", "fontSize": 11, "align": "left", "baseline": "alphabetic", "dy": -2}, "encoding": {"x": {"datum": -0.544}, "y": {"datum": 0, "axis": null}, "text": {"value": "0"}}},
        {"mark": {"type": "text", "fontSize": 23, "align": "right", "baseline": "middle"}, "encoding": {"x": {"datum": 19.819}, "y": {"datum": 35.25, "axis": null}, "text": {"value": "Micro-tremors of the First Kind"}}},
        {"mark": {"type": "text", "fontSize": 22, "align": "center", "baseline": "middle"}, "encoding": {"x": {"datum": 16.813}, "y": {"datum": 20.9, "axis": null}, "text": {"value": "Amplitude"}}}
      ]
    },
    {
      "layer": [
        {
          "data": {"name": "per1"},
          "mark": {"type": "circle", "size": 4, "color": "#222222", "opacity": 1},
          "encoding": {
            "x": {"field": "d", "type": "quantitative", "title": null, "scale": {"domain": [-0.855, 19.922], "nice": false, "zero": false}},
            "y": {"field": "s", "type": "quantitative", "scale": {"domain": [-11.348, 7.026], "nice": false, "zero": false}, "axis": null}
          }
        },
        {"mark": {"type": "rule"}, "encoding": {"y": {"datum": 0.6, "axis": null}}},
        {"data": {"name": "ticks"}, "transform": [{"filter": "datum.d >= 1"}], "mark": {"type": "rule"}, "encoding": {"x": {"field": "d", "type": "quantitative", "title": null}, "y": {"datum": 0.6, "axis": null}, "y2": {"datum": 0.729}}},
        {"mark": {"type": "rule"}, "encoding": {"x": {"datum": -0.855}, "x2": {"datum": 1.01}, "y": {"datum": 1.4, "axis": null}}},
        {"mark": {"type": "text", "font": "DejaVu Sans", "fontWeight": "bold", "fontSize": 10, "align": "left", "baseline": "alphabetic", "dy": -2}, "encoding": {"x": {"datum": -0.803}, "y": {"datum": 1.4, "axis": null}, "text": {"value": "1.4 Sec."}}},
        {"mark": {"type": "text", "font": "DejaVu Sans", "fontSize": 11, "align": "left", "baseline": "alphabetic", "dy": -2}, "encoding": {"x": {"datum": -0.803}, "y": {"datum": 0.6, "axis": null}, "text": {"value": "0.6"}}},
        {"mark": {"type": "text", "fontSize": 22, "align": "center", "baseline": "middle"}, "encoding": {"x": {"datum": 17.824}, "y": {"datum": 1.387, "axis": null}, "text": {"value": "Period"}}}
      ]
    },
    {
      "layer": [
        {
          "data": {"name": "amp2"},
          "mark": {"type": "line", "strokeWidth": 1.1, "color": "#1a1a1a"},
          "encoding": {
            "x": {"field": "d", "type": "quantitative", "title": null, "scale": {"domain": [-0.855, 19.922], "nice": false, "zero": false}},
            "y": {"field": "v", "type": "quantitative", "scale": {"domain": [-76, 102], "nice": false, "zero": false}, "axis": null},
            "detail": {"field": "seg"},
            "strokeDash": {"field": "trace", "type": "nominal", "scale": {"domain": ["observed", "interpolated"], "range": [[6, 0], [1.2, 2.6]]}, "legend": null}
          }
        },
        {"mark": {"type": "rule"}, "encoding": {"y": {"datum": 0, "axis": null}}},
        {"data": {"name": "ticks"}, "mark": {"type": "rule"}, "encoding": {"x": {"field": "d", "type": "quantitative", "title": null}, "y": {"datum": 0, "axis": null}, "y2": {"datum": 1.25}}},
        {"mark": {"type": "rule"}, "encoding": {"x": {"datum": -0.855}, "x2": {"datum": 0.518}, "y": {"datum": 30, "axis": null}}},
        {"mark": {"type": "rule"}, "encoding": {"x": {"datum": -0.855}, "x2": {"datum": 0.233}, "y": {"datum": 20, "axis": null}}},
        {"mark": {"type": "rule"}, "encoding": {"x": {"datum": -0.855}, "x2": {"datum": -0.13}, "y": {"datum": 10, "axis": null}}},
        {"mark": {"type": "text", "font": "DejaVu Sans", "fontSize": 11, "align": "left", "baseline": "alphabetic", "dy": -2}, "encoding": {"x": {"datum": -0.8}, "y": {"datum": 30, "axis": null}, "text": {"value": "30"}}},
        {"mark": {"type": "text", "font": "DejaVu Sans", "fontSize": 10, "align": "left", "baseline": "middle"}, "encoding": {"x": {"datum": -0.155}, "y": {"datum": 32.5, "axis": null}, "text": {"value": "μ"}}},
        {"mark": {"type": "text", "font": "DejaVu Sans", "fontSize": 11, "align": "left", "baseline": "alphabetic", "dy": -2}, "encoding": {"x": {"datum": -0.78}, "y": {"datum": 20, "axis": null}, "text": {"value": "20"}}},
        {"mark": {"type": "text", "font": "DejaVu Sans", "fontSize": 11, "align": "left", "baseline": "alphabetic", "dy": -2}, "encoding": {"x": {"datum": -0.78}, "y": {"datum": 10, "axis": null}, "text": {"value": "10"}}},
        {"mark": {"type": "text", "font": "DejaVu Sans", "fontSize": 11, "align": "left", "baseline": "alphabetic", "dy": -2}, "encoding": {"x": {"datum": -0.544}, "y": {"datum": 0, "axis": null}, "text": {"value": "0"}}},
        {"mark": {"type": "text", "fontSize": 23, "align": "right", "baseline": "middle"}, "encoding": {"x": {"datum": 19.793}, "y": {"datum": 27.25, "axis": null}, "text": {"value": "Micro-tremors of the Second Kind"}}},
        {"mark": {"type": "text", "fontSize": 22, "align": "center", "baseline": "middle"}, "encoding": {"x": {"datum": 17.202}, "y": {"datum": 16.75, "axis": null}, "text": {"value": "Amplitude"}}}
      ]
    },
    {
      "layer": [
        {
          "data": {"name": "per2"},
          "mark": {"type": "circle", "size": 4, "color": "#222222", "opacity": 1},
          "encoding": {
            "x": {"field": "d", "type": "quantitative", "title": null, "scale": {"domain": [-0.855, 19.922], "nice": false, "zero": false}},
            "y": {"field": "s", "type": "quantitative", "scale": {"domain": [-12, 32.5], "nice": false, "zero": false}, "axis": null}
          }
        },
        {"mark": {"type": "rule"}, "encoding": {"y": {"datum": 3, "axis": null}}},
        {"data": {"name": "ticks"}, "transform": [{"filter": "datum.d >= 1"}], "mark": {"type": "rule"}, "encoding": {"x": {"field": "d", "type": "quantitative", "title": null}, "y": {"datum": 3, "axis": null}, "y2": {"datum": 3.3125}}},
        {"mark": {"type": "rule"}, "encoding": {"x": {"datum": 1.218}, "x2": {"datum": 2.824}, "y": {"datum": 6, "axis": null}}},
        {"mark": {"type": "rule"}, "encoding": {"x": {"datum": 1.218}, "x2": {"datum": 2.824}, "y": {"datum": 5, "axis": null}}},
        {"mark": {"type": "rule"}, "encoding": {"x": {"datum": 1.218}, "x2": {"datum": 2.824}, "y": {"datum": 4, "axis": null}}},
        {"mark": {"type": "text", "font": "DejaVu Sans", "fontWeight": "bold", "fontSize": 11, "align": "left", "baseline": "alphabetic", "dy": -2}, "encoding": {"x": {"datum": 1.347}, "y": {"datum": 6, "axis": null}, "text": {"value": "6 Sec."}}},
        {"mark": {"type": "text", "font": "DejaVu Sans", "fontWeight": "bold", "fontSize": 11, "align": "center", "baseline": "alphabetic", "dy": -2}, "encoding": {"x": {"datum": 1.632}, "y": {"datum": 5, "axis": null}, "text": {"value": "5"}}},
        {"mark": {"type": "text", "font": "DejaVu Sans", "fontWeight": "bold", "fontSize": 11, "align": "center", "baseline": "alphabetic", "dy": -2}, "encoding": {"x": {"datum": 1.632}, "y": {"datum": 4, "axis": null}, "text": {"value": "4"}}},
        {"mark": {"type": "text", "font": "DejaVu Sans", "fontWeight": "bold", "fontSize": 11, "align": "center", "baseline": "alphabetic", "dy": -2}, "encoding": {"x": {"datum": 1.632}, "y": {"datum": 3, "axis": null}, "text": {"value": "3"}}},
        {"mark": {"type": "text", "fontSize": 22, "align": "center", "baseline": "middle"}, "encoding": {"x": {"datum": 17.772}, "y": {"datum": 5.81, "axis": null}, "text": {"value": "Period"}}}
      ]
    },
    {
      "layer": [
        {
          "data": {"name": "sw"},
          "mark": {"type": "line", "strokeWidth": 1.1, "color": "#1a1a1a", "interpolate": "monotone"},
          "encoding": {
            "x": {"field": "d", "type": "quantitative", "title": null, "scale": {"domain": [-0.855, 19.922], "nice": false, "zero": false}},
            "y": {"field": "t", "type": "quantitative", "scale": {"domain": [-4.152, 11.326], "nice": false, "zero": false}, "axis": null},
            "detail": {"field": "seg"}
          }
        },
        {"mark": {"type": "rule"}, "encoding": {"x": {"datum": -0.855}, "x2": {"datum": 16.425}, "y": {"datum": 0, "axis": null}}},
        {"mark": {"type": "rule"}, "encoding": {"x": {"datum": 18.912}, "x2": {"datum": 19.922}, "y": {"datum": 0, "axis": null}}},
        {"data": {"name": "ticks"}, "transform": [{"filter": "datum.d >= 1"}], "mark": {"type": "rule"}, "encoding": {"x": {"field": "d", "type": "quantitative", "title": null}, "y": {"datum": 0, "axis": null}, "y2": {"datum": 0.109}}},
        {"mark": {"type": "rule"}, "encoding": {"x": {"datum": -0.855}, "x2": {"datum": 0.259}, "y": {"datum": 0.5, "axis": null}}},
        {"mark": {"type": "rule"}, "encoding": {"x": {"datum": -0.855}, "x2": {"datum": -0.13}, "y": {"datum": -0.5, "axis": null}}},
        {"mark": {"type": "text", "font": "DejaVu Sans", "fontSize": 11, "align": "left", "baseline": "alphabetic", "dy": -2}, "encoding": {"x": {"datum": -0.78}, "y": {"datum": 0.5, "axis": null}, "text": {"value": "+0.̋5"}}},
        {"mark": {"type": "text", "font": "DejaVu Sans", "fontSize": 11, "align": "left", "baseline": "alphabetic", "dy": -2}, "encoding": {"x": {"datum": -0.674}, "y": {"datum": 0, "axis": null}, "text": {"value": "0"}}},
        {"mark": {"type": "text", "font": "DejaVu Sans", "fontSize": 11, "align": "left", "baseline": "alphabetic", "dy": -2}, "encoding": {"x": {"datum": -0.78}, "y": {"datum": -0.5, "axis": null}, "text": {"value": "-0.̋5"}}},
        {"mark": {"type": "text", "fontSize": 18, "fontWeight": "bold", "align": "center", "baseline": "middle"}, "encoding": {"x": {"datum": 11.943}, "y": {"datum": 0.75, "axis": null}, "text": {"value": "SW-Comp."}}},
        {"mark": {"type": "text", "fontSize": 22, "fontWeight": "bold", "align": "left", "baseline": "alphabetic"}, "encoding": {"x": {"datum": 16.55}, "y": {"datum": -0.054, "axis": null}, "text": {"value": "Tilting"}}},
        {"mark": {"type": "text", "fontSize": 16, "align": "left", "baseline": "alphabetic"}, "encoding": {"x": {"datum": 18.32}, "y": {"datum": -0.054, "axis": null}, "text": {"value": "of"}}},
        {"mark": {"type": "text", "fontSize": 24, "align": "right", "baseline": "middle"}, "encoding": {"x": {"datum": 19.793}, "y": {"datum": -0.543, "axis": null}, "text": {"value": "the Earth-Crust"}}}
      ]
    },
    {
      "layer": [
        {
          "data": {"name": "nw"},
          "mark": {"type": "line", "strokeWidth": 1.1, "color": "#1a1a1a", "interpolate": "monotone"},
          "encoding": {
            "x": {"field": "d", "type": "quantitative", "title": null, "scale": {"domain": [-0.855, 19.922], "nice": false, "zero": false}},
            "y": {"field": "t", "type": "quantitative", "scale": {"domain": [-2.457, 13.022], "nice": false, "zero": false}, "axis": null},
            "detail": {"field": "seg"}
          }
        },
        {"mark": {"type": "rule"}, "encoding": {"y": {"datum": 0, "axis": null}}},
        {"data": {"name": "ticks"}, "transform": [{"filter": "datum.d >= 1"}], "mark": {"type": "rule"}, "encoding": {"x": {"field": "d", "type": "quantitative", "title": null}, "y": {"datum": 0, "axis": null}, "y2": {"datum": 0.109}}},
        {"mark": {"type": "rule"}, "encoding": {"x": {"datum": -0.855}, "x2": {"datum": 1.114}, "y": {"datum": 1.0, "axis": null}}},
        {"mark": {"type": "rule"}, "encoding": {"x": {"datum": -0.855}, "x2": {"datum": -0.13}, "y": {"datum": 0.5, "axis": null}}},
        {"mark": {"type": "rule"}, "encoding": {"x": {"datum": -0.855}, "x2": {"datum": -0.13}, "y": {"datum": -0.5, "axis": null}}},
        {"mark": {"type": "rule"}, "encoding": {"x": {"datum": -0.855}, "x2": {"datum": 0.259}, "y": {"datum": -1.0, "axis": null}}},
        {"mark": {"type": "text", "font": "DejaVu Sans", "fontSize": 11, "align": "left", "baseline": "alphabetic", "dy": -2}, "encoding": {"x": {"datum": -0.337}, "y": {"datum": 1.0, "axis": null}, "text": {"value": "+1.̋0"}}},
        {"mark": {"type": "text", "font": "DejaVu Sans", "fontSize": 11, "align": "left", "baseline": "alphabetic", "dy": -2}, "encoding": {"x": {"datum": -0.78}, "y": {"datum": 0.5, "axis": null}, "text": {"value": "+0.̋5"}}},
        {"mark": {"type": "text", "font": "DejaVu Sans", "fontSize": 11, "align": "left", "baseline": "alphabetic", "dy": -2}, "encoding": {"x": {"datum": -0.674}, "y": {"datum": 0, "axis": null}, "text": {"value": "0"}}},
        {"mark": {"type": "text", "font": "DejaVu Sans", "fontSize": 11, "align": "left", "baseline": "alphabetic", "dy": -2}, "encoding": {"x": {"datum": -0.78}, "y": {"datum": -0.5, "axis": null}, "text": {"value": "-0.̋5"}}},
        {"mark": {"type": "text", "font": "DejaVu Sans", "fontSize": 11, "align": "left", "baseline": "alphabetic", "dy": -2}, "encoding": {"x": {"datum": -0.78}, "y": {"datum": -1.0, "axis": null}, "text": {"value": "-1.̋0"}}},
        {"mark": {"type": "text", "fontSize": 20, "align": "center", "baseline": "middle"}, "encoding": {"x": {"datum": 12.047}, "y": {"datum": 1.02, "axis": null}, "text": {"value": "NW-Comp."}}}
      ]
    },
    {
      "layer": [
        {
          "data": {"name": "shocks"},
          "mark": {"type": "bar", "size": 1.8, "color": "#505050"},
          "encoding": {
            "x": {"field": "d", "type": "quantitative", "title": null, "scale": {"domain": [-0.855, 19.922], "nice": false, "zero": false}},
            "y": {"field": "mm", "type": "quantitative", "scale": {"domain": [0, 459.35], "nice": false, "zero": false}, "axis": null}
          }
        },
        {"mark": {"type": "rule"}, "encoding": {"x": {"datum": 14.87}, "x2": {"datum": 16.24}, "y": {"datum": 40, "axis": null}}},
        {"mark": {"type": "rule"}, "encoding": {"x": {"datum": 14.87}, "x2": {"datum": 16.19}, "y": {"datum": 20, "axis": null}}},
        {"mark": {"type": "text", "font": "DejaVu Sans", "fontSize": 11, "align": "center", "baseline": "alphabetic", "dy": -2}, "encoding": {"x": {"datum": 15.544}, "y": {"datum": 40, "axis": null}, "text": {"value": "40"}}},
        {"mark": {"type": "text", "font": "DejaVu Sans", "fontWeight": "bold", "fontSize": 9, "align": "left", "baseline": "middle"}, "encoding": {"x": {"datum": 16.295}, "y": {"datum": 46.5, "axis": null}, "text": {"value": "mm."}}},
        {"mark": {"type": "text", "font": "DejaVu Sans", "fontSize": 11, "align": "center", "baseline": "alphabetic", "dy": -2}, "encoding": {"x": {"datum": 15.648}, "y": {"datum": 20, "axis": null}, "text": {"value": "20"}}},
        {"mark": {"type": "text", "font": "DejaVu Sans", "fontSize": 11, "align": "center", "baseline": "alphabetic", "dy": -2}, "encoding": {"x": {"datum": 15.725}, "y": {"datum": 0, "axis": null}, "text": {"value": "0"}}},
        {"mark": {"type": "text", "fontSize": 20, "align": "left", "baseline": "middle"}, "encoding": {"x": {"datum": -0.674}, "y": {"datum": 23.87, "axis": null}, "text": {"value": "Hourly Sum of Maximum Amplitudes"}}},
        {"mark": {"type": "text", "fontSize": 20, "align": "left", "baseline": "middle"}, "encoding": {"x": {"datum": 10.492}, "y": {"datum": 23.2, "axis": null}, "text": {"value": "of the Sound-Shocks"}}}
      ]
    }
  ]
}
